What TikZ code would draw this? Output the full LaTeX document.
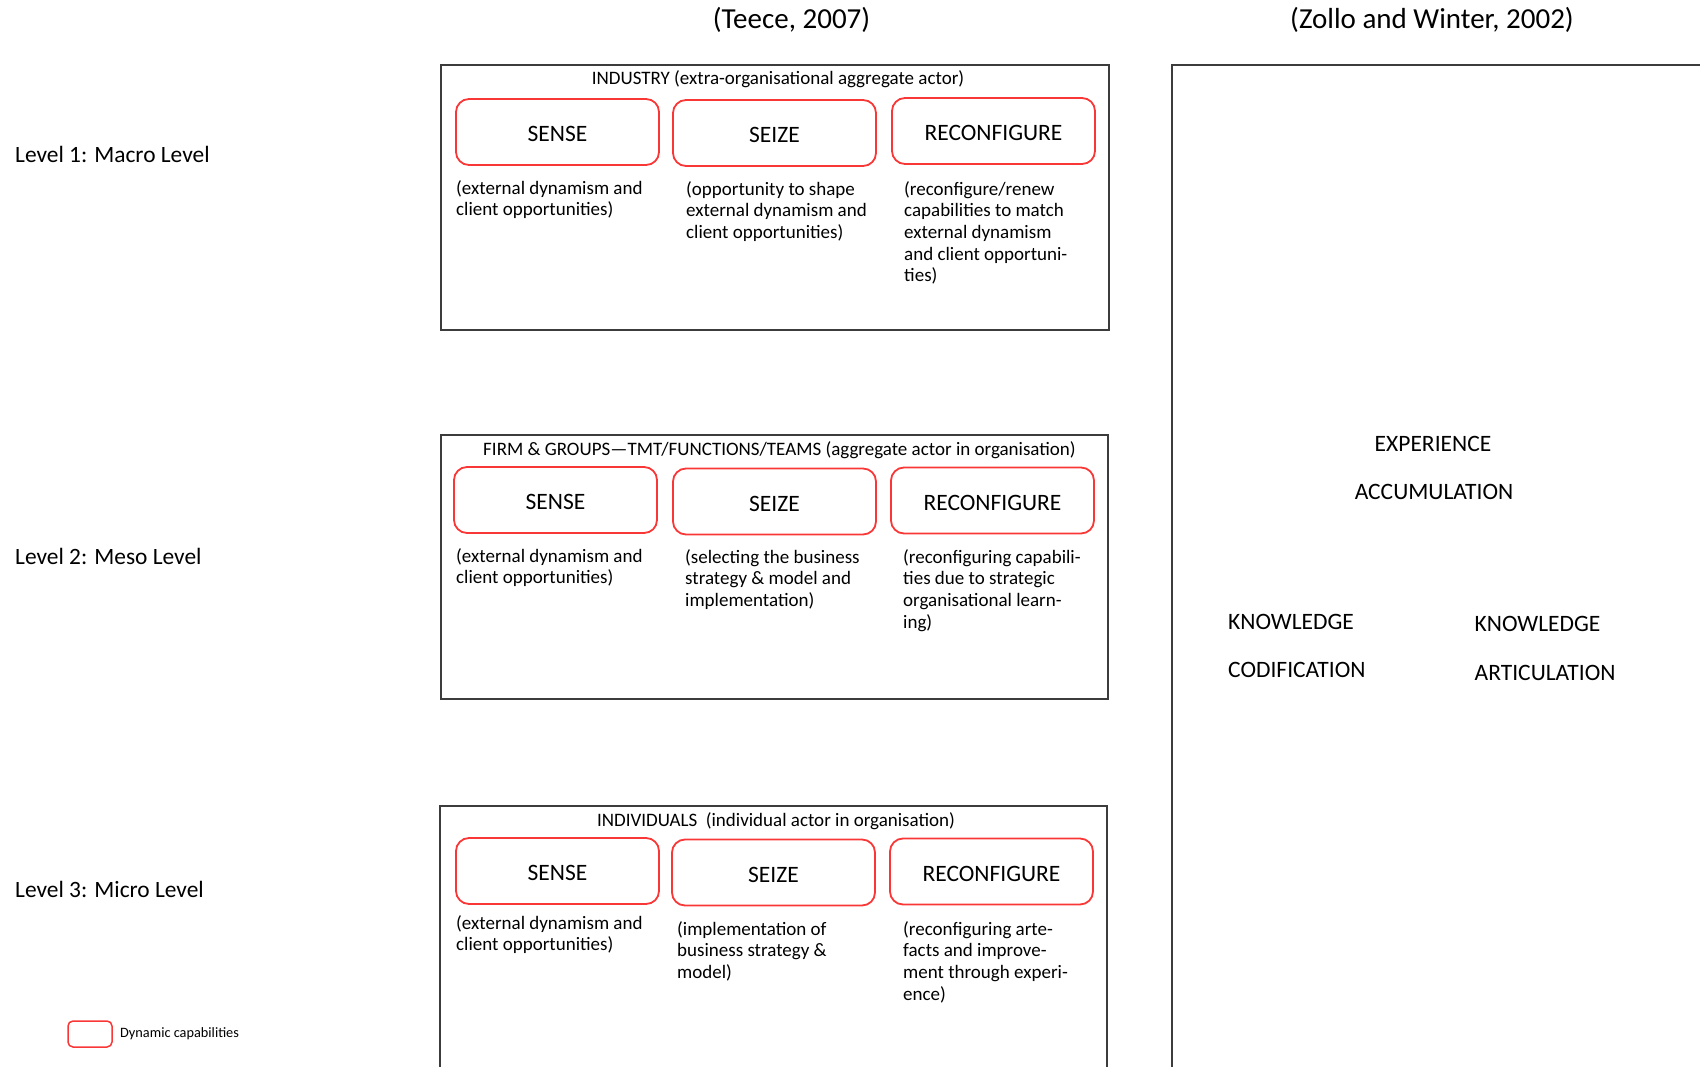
\documentclass[tikz,border=0pt]{standalone}
\usepackage{fontspec}
\setmainfont{Carlito}
\definecolor{framegray}{RGB}{60,60,60}
\definecolor{dcred}{RGB}{250,55,55}
% fixed-height strut so the top of a description block sits a known distance above its first baseline
\newcommand\dstrut{\rule{0pt}{16pt}}
\begin{document}
\begin{tikzpicture}[x=1pt,y=-1pt,
  frame/.style={draw=framegray, line width=1.4pt},
  dcbox/.style={draw=dcred, line width=1.8pt, rounded corners=13pt,
    minimum width=203pt, minimum height=66pt, inner sep=0pt,
    text height=19.2pt, text depth=0pt,
    font=\fontsize{23.5}{28}\selectfont},
  desc/.style={anchor=north west, align=left, inner sep=0pt,
    font=\fontsize{19}{21.7}\selectfont},
  head/.style={anchor=base, inner sep=0pt, font=\fontsize{19}{22}\selectfont},
  lvl/.style={anchor=base west, inner sep=0pt, font=\fontsize{23.4}{27}\selectfont},
  ttl/.style={anchor=base, inner sep=0pt, font=\fontsize{29}{34}\selectfont},
  zw/.style={anchor=base, inner sep=0pt, font=\fontsize{23.5}{28}\selectfont},
  zwl/.style={anchor=base west, inner sep=0pt, font=\fontsize{23.5}{28}\selectfont},
]
\useasboundingbox (0,0) rectangle (1700,1067);

% column titles
\node[ttl] (teece) at (791.5,29) {(Teece, 2007)};
\node[ttl] (zollo) at (1432,29) {(Zollo and Winter, 2002)};

% level labels
\node[lvl] (lv1) at (15,163) {Level 1: Macro Level};
\node[lvl] (lv2) at (15,564) {Level 2: Meso Level};
\node[lvl] (lv3) at (15,897) {Level 3: Micro Level};

% level frames
\draw[frame] (441,65) rectangle (1109,330);
\draw[frame] (441,435) rectangle (1108,699);
\draw[frame] (440,1068) -- (440,806) -- (1107,806) -- (1107,1068);
\draw[frame] (1701,65) -- (1172,65) -- (1172,1068);

% level 1: industry
\node[head] (h1) at (778,85) {INDUSTRY (extra-organisational aggregate actor)};
\node[dcbox] (sense1) at (557.5,132) {SENSE};
\node[dcbox] (seize1) at (774.5,133) {SEIZE};
\node[dcbox] (reconf1) at (993.5,131) {RECONFIGURE};
\node[desc] (dsense1) at (456,194-16) {\dstrut(external dynamism and\\client opportunities)};
\node[desc] (dseize1) at (686,195-16) {\dstrut(opportunity to shape\\external dynamism and\\client opportunities)};
\node[desc] (dreconf1) at (904,195-16) {\dstrut(reconfigure/renew\\capabilities to match\\external dynamism\\and client opportuni-\\ties)};

% level 2: firm and groups
\node[head] (h2) at (779.5,455) {FIRM \& GROUPS—TMT/FUNCTIONS/TEAMS (aggregate actor in organisation)};
\node[dcbox] (sense2) at (555.5,500) {SENSE};
\node[dcbox] (seize2) at (774.5,501.5) {SEIZE};
\node[dcbox] (reconf2) at (992.5,500.5) {RECONFIGURE};
\node[desc] (dsense2) at (456,562-16) {\dstrut(external dynamism and\\client opportunities)};
\node[desc] (dseize2) at (685,563-16) {\dstrut(selecting the business\\strategy \& model and\\implementation)};
\node[desc] (dreconf2) at (903,563-16) {\dstrut(reconfiguring capabili-\\ties due to strategic\\organisational learn-\\ing)};

% level 3: individuals
\node[head] (h3) at (776,826) {INDIVIDUALS\ \ (individual actor in organisation)};
\node[dcbox] (sense3) at (557.5,871) {SENSE};
\node[dcbox] (seize3) at (773.5,872.5) {SEIZE};
\node[dcbox] (reconf3) at (991.5,871.5) {RECONFIGURE};
\node[desc] (dsense3) at (456,929-16) {\dstrut(external dynamism and\\client opportunities)};
\node[desc] (dseize3) at (677,935-16) {\dstrut(implementation of\\business strategy \&\\model)};
\node[desc] (dreconf3) at (903,935-16) {\dstrut(reconfiguring arte-\\facts and improve-\\ment through experi-\\ence)};

% learning mechanisms
\node[zw] (exp) at (1433,451) {EXPERIENCE};
\node[zw] (acc) at (1434,499) {ACCUMULATION};
\node[zwl] (kc1) at (1228,629) {KNOWLEDGE};
\node[zwl] (kc2) at (1228,677) {CODIFICATION};
\node[zwl] (ka1) at (1474.5,631) {KNOWLEDGE};
\node[zwl] (ka2) at (1474.5,680) {ARTICULATION};

% legend
\node[draw=dcred, line width=1.5pt, rounded corners=5pt, minimum width=44pt,
  minimum height=26pt, inner sep=0pt] (legbox) at (90,1034) {};
\node[anchor=base west, inner sep=0pt, font=\fontsize{14.3}{16}\selectfont]
  (legtext) at (120,1037) {Dynamic capabilities};
\end{tikzpicture}
\end{document}
